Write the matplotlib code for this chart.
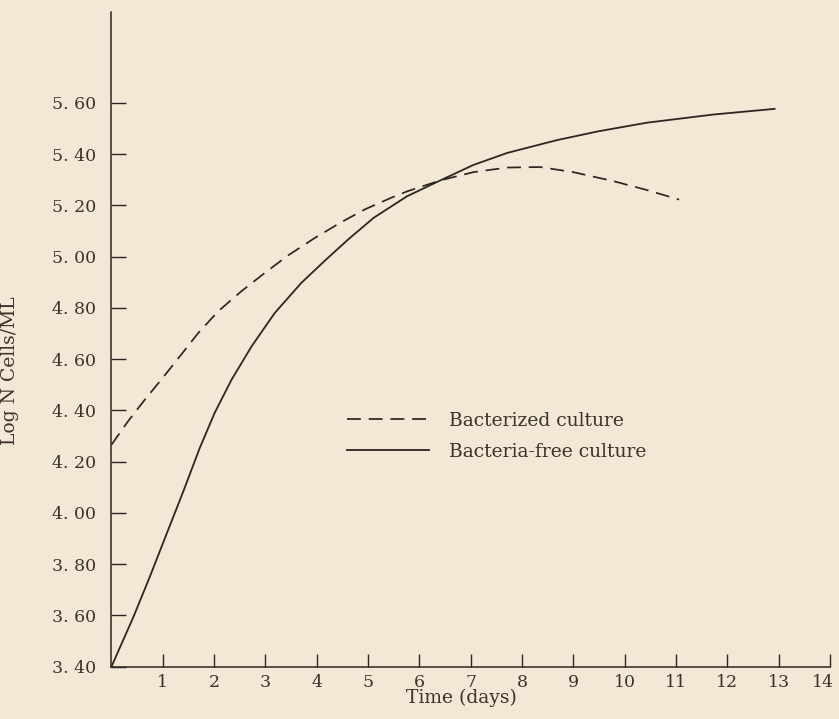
#!/usr/bin/env python3
"""
Growth of bacterized vs bacteria-free cultures (log N cells/ML over time).

Redraw of an old typed figure: two curves, no frame on top/right,
inward ticks, legend floating in the middle of the plot.
"""
import matplotlib
matplotlib.use('Agg')
import matplotlib.pyplot as plt
from matplotlib.transforms import ScaledTranslation

# --- Data ---
BACTERIZED_DAYS = [0, 0.32, 0.65, 0.97, 1.36, 1.69, 2.08, 2.53, 2.99, 3.44, 3.96,
                   4.48, 4.94, 5.45, 5.76, 6.41, 7.05, 7.71, 8.35, 9.00, 9.78, 10.40, 11.06]
BACTERIZED_LOG_N = [4.266, 4.357, 4.442, 4.520, 4.618, 4.702, 4.787, 4.865, 4.937, 5.005, 5.073,
                    5.135, 5.185, 5.230, 5.255, 5.298, 5.330, 5.348, 5.350, 5.330, 5.295, 5.262, 5.223]

FREE_DAYS = [0, 0.43, 0.75, 1.08, 1.40, 1.72, 2.01, 2.34, 2.73, 3.18, 3.70, 4.16,
             4.61, 5.11, 5.76, 6.41, 7.05, 7.71, 8.68, 9.50, 10.43, 11.73, 12.92]
FREE_LOG_N = [3.40, 3.595, 3.752, 3.921, 4.084, 4.253, 4.390, 4.520, 4.650, 4.780, 4.898, 4.985,
              5.067, 5.152, 5.236, 5.298, 5.358, 5.405, 5.455, 5.490, 5.523, 5.555, 5.577]

SERIES_LABELS = ["Bacterized culture", "Bacteria-free culture"]

X_TICKS = list(range(1, 15))
Y_TICKS = [3.40, 3.60, 3.80, 4.00, 4.20, 4.40, 4.60, 4.80, 5.00, 5.20, 5.40, 5.60]
Y_TICK_LABELS = ["3. 40", "3. 60", "3. 80", "4. 00", "4. 20", "4. 40",
                 "4. 60", "4. 80", "5. 00", "5. 20", "5. 40", "5. 60"]

# --- Style ---
PAPER = '#f3e8d6'
INK = '#3a332c'
LINE = '#2b2622'
FONT = 'DejaVu Serif'


def main():
    plt.rcParams['font.family'] = FONT

    fig = plt.figure(figsize=(8.39, 7.19), dpi=100, facecolor=PAPER)
    ax = fig.add_axes([0.1328, 0.0727, 0.8565, 0.9106])
    ax.set_facecolor(PAPER)

    ax.plot(BACTERIZED_DAYS, BACTERIZED_LOG_N, color=LINE, lw=1.25,
            linestyle=(0, (8, 4.5)), label=SERIES_LABELS[0])
    ax.plot(FREE_DAYS, FREE_LOG_N, color=LINE, lw=1.3,
            label=SERIES_LABELS[1])

    ax.set_xlim(0, 14)
    ax.set_ylim(3.40, 5.955)

    for side in ('top', 'right'):
        ax.spines[side].set_visible(False)
    for side in ('left', 'bottom'):
        ax.spines[side].set_color(LINE)
        ax.spines[side].set_linewidth(1.1)

    ax.set_xticks(X_TICKS)
    ax.set_xticklabels([str(t) for t in X_TICKS])
    ax.set_yticks(Y_TICKS)
    ax.set_yticklabels(Y_TICK_LABELS)

    ax.tick_params(axis='x', direction='in', length=9.5, width=1.0,
                   color=LINE, labelcolor=INK, labelsize=12.5, pad=5)
    ax.tick_params(axis='y', direction='in', length=10.5, width=1.0,
                   color=LINE, labelcolor=INK, labelsize=12.5, pad=11)

    # the "14" sits a bit left of its tick, at the paper edge
    last = ax.get_xticklabels()[-1]
    last.set_transform(last.get_transform() + ScaledTranslation(-7 / 100, 0, fig.dpi_scale_trans))

    ax.set_xlabel('Time (days)', color=INK, fontsize=13.5)
    ax.xaxis.set_label_coords(0.4865, -0.034)
    ax.set_ylabel('Log N Cells/ML', color=INK, fontsize=13.5)
    ax.yaxis.set_label_coords(-0.1286, 0.453)

    leg = ax.legend(loc='center left', bbox_to_anchor=(0.328, 0.352),
                    frameon=False, fontsize=13.5, handlelength=4.37,
                    handletextpad=1.07, labelspacing=0.68,
                    borderpad=0, borderaxespad=0)
    for txt in leg.get_texts():
        txt.set_color(INK)

    fig.savefig('out.png', dpi=100, facecolor=PAPER)
    plt.close(fig)


if __name__ == "__main__":
    main()
